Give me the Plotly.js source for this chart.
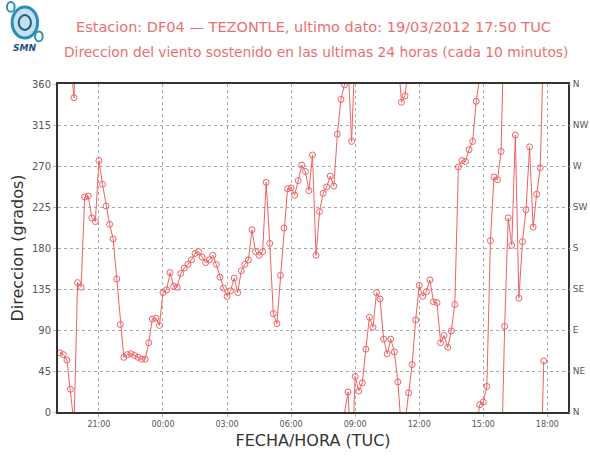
<!DOCTYPE html>
<html>
<head>
<meta charset="utf-8">
<script src="https://cdn.plot.ly/plotly-3.0.1.min.js"></script>
<style>
  html, body { margin: 0; padding: 0; background: #fff; }
  #chart { width: 590px; height: 456px; }
</style>
</head>
<body>
<div id="chart"></div>
<script>
// Estación DF04 - TEZONTLE: dirección del viento sostenido, una lectura cada 10 minutos
const firstReading = '2012-03-18 19:10';
const stepMinutes = 10;

// Dirección (grados), en orden cronológico
const direccion = [
  65, 63, 57, 25, 345, 142, 137, 236, 237, 213, 209, 276,
  250, 226, 206, 190, 146, 96, 60, 63, 64, 62, 60, 58,
  58, 76, 102, 103, 95, 131, 134, 153, 138, 137, 152, 158,
  162, 167, 174, 176, 170, 164, 167, 172, 162, 148, 136, 127,
  133, 147, 131, 155, 162, 167, 200, 176, 172, 176, 252, 185,
  108, 97, 150, 202, 245, 246, 238, 254, 271, 264, 243, 282,
  172, 220, 240, 247, 259, 248, 305, 343, 359, 22, 297, 39,
  23, 32, 69, 104, 93, 131, 124, 80, 64, 80, 66, 33,
  340, 347, 21, 52, 101, 139, 127, 132, 145, 121, 120, 76,
  84, 71, 89, 118, 269, 276, 275, 288, 297, 341, 8, 11,
  28, 188, 258, 255, 286, 94, 213, 183, 304, 125, 187, 222,
  291, 203, 239, 268, 56
];

const gradosTicks = [0, 45, 90, 135, 180, 225, 270, 315, 360];
const rumbosTicks = ['N', 'NE', 'E', 'SE', 'S', 'SW', 'W', 'NW', 'N'];
const horaTicks = ['2012-03-18 21:00', '2012-03-19 00:00', '2012-03-19 03:00',
                   '2012-03-19 06:00', '2012-03-19 09:00', '2012-03-19 12:00',
                   '2012-03-19 15:00', '2012-03-19 18:00'];
const xRange = ['2012-03-18 19:05', '2012-03-19 18:58'];

const title1 = 'Estacion: DF04 \u2014 TEZONTLE, ultimo dato: 19/03/2012 17:50 TUC';
const title2 = 'Direccion del viento sostenido en las ultimas 24 horas (cada 10 minutos)';

// helpers for timestamps (kept as UTC wall-clock strings)
function toMs(s) {
  const [d, t] = s.split(' ');
  const [Y, M, D] = d.split('-').map(Number);
  const [h, m] = t.split(':').map(Number);
  return Date.UTC(Y, M - 1, D, h, m);
}
function toStr(ms) {
  return new Date(ms).toISOString().slice(0, 19).replace('T', ' ');
}

const t0 = toMs(firstReading);
const tiempos = direccion.map((_, i) => t0 + i * stepMinutes * 60000);

// Line path: when the direction crosses north (0/360) the segment leaves
// through one edge and comes back in through the opposite one.
const lx = [], ly = [];
for (let i = 0; i < direccion.length; i++) {
  lx.push(toStr(tiempos[i])); ly.push(direccion[i]);
  if (i === direccion.length - 1) break;
  const a = direccion[i], b = direccion[i + 1];
  const d = b - a;
  if (d > 180) {               // wraps through 0 going down
    const f = a / (a + 360 - b);
    const xc = toStr(tiempos[i] + f * (tiempos[i + 1] - tiempos[i]));
    lx.push(xc, null, xc); ly.push(0, null, 360);
  } else if (d < -180) {       // wraps through 360 going up
    const f = (360 - a) / ((360 - a) + b);
    const xc = toStr(tiempos[i] + f * (tiempos[i + 1] - tiempos[i]));
    lx.push(xc, null, xc); ly.push(360, null, 0);
  }
}

const rojo = '#ef6262';

const traces = [
  {
    x: lx, y: ly, type: 'scatter', mode: 'lines',
    line: { color: rojo, width: 1 }, connectgaps: false,
    hoverinfo: 'skip', showlegend: false
  },
  {
    x: tiempos.map(toStr), y: direccion, type: 'scatter', mode: 'markers',
    marker: { symbol: 'circle-open', size: 6, color: rojo, line: { width: 1, color: rojo } },
    showlegend: false
  },
  {
    x: [xRange[0]], y: [0], yaxis: 'y2', type: 'scatter', mode: 'markers',
    marker: { opacity: 0 }, hoverinfo: 'skip', showlegend: false
  }
];

const ejeFont = { family: 'DejaVu Sans, sans-serif', color: '#555' };

const layout = {
  width: 590, height: 456,
  margin: { l: 58, r: 22, t: 84, b: 44 },
  paper_bgcolor: '#fff', plot_bgcolor: '#fff',
  font: { family: 'DejaVu Sans, sans-serif', color: '#444' },
  xaxis: {
    type: 'date', range: xRange,
    tickvals: horaTicks, tickformat: '%H:%M',
    tickfont: Object.assign({ size: 8 }, ejeFont),
    showgrid: true, gridcolor: '#aaa', griddash: 'dot', gridwidth: 1,
    showline: true, mirror: true, linecolor: '#333', linewidth: 2,
    ticks: 'outside', ticklen: 3, tickcolor: '#bbb',
    zeroline: false,
    title: { text: 'FECHA/HORA (TUC)', font: { size: 16, color: '#333' }, standoff: 7 }
  },
  yaxis: {
    range: [0, 360], tickvals: gradosTicks,
    tickfont: Object.assign({ size: 10 }, ejeFont),
    showgrid: true, gridcolor: '#aaa', griddash: 'dot', gridwidth: 1,
    showline: true, mirror: true, linecolor: '#333', linewidth: 2,
    ticks: 'outside', ticklen: 3, tickcolor: '#bbb',
    zeroline: false,
    title: { text: 'Direccion (grados)', font: { size: 16, color: '#333' }, standoff: 4 }
  },
  yaxis2: {
    overlaying: 'y', side: 'right', range: [0, 360],
    tickvals: gradosTicks, ticktext: rumbosTicks,
    tickfont: Object.assign({ size: 9 }, ejeFont),
    showgrid: false, zeroline: false, showline: false,
    ticks: 'outside', ticklen: 2, tickcolor: '#bbb'
  },
  annotations: [
    { text: title1, xref: 'paper', yref: 'paper', x: 0.5, y: 1.174,
      xanchor: 'center', yanchor: 'middle', showarrow: false,
      font: { size: 14.5, color: '#ea7070' } },
    { text: title2, xref: 'paper', yref: 'paper', x: 0.505, y: 1.097,
      xanchor: 'center', yanchor: 'middle', showarrow: false,
      font: { size: 13.8, color: '#ea7070' } },
    { text: '<b><i>SMN</i></b>', xref: 'paper', yref: 'paper',
      x: -0.066, y: 1.11, xanchor: 'center', yanchor: 'middle', showarrow: false,
      font: { size: 9, color: '#1f4e8c' } }
  ],
  shapes: [
    // SMN emblem
    { type: 'circle', xref: 'paper', yref: 'paper', x0: -0.09, x1: -0.04, y0: 1.14, y1: 1.235,
      line: { color: '#2b8fb8', width: 3 }, fillcolor: 'rgba(90,170,200,0.35)' },
    { type: 'circle', xref: 'paper', yref: 'paper', x0: -0.077, x1: -0.053, y0: 1.165, y1: 1.21,
      line: { color: '#1f5f8c', width: 2 }, fillcolor: 'rgba(0,0,0,0)' },
    { type: 'circle', xref: 'paper', yref: 'paper', x0: -0.1, x1: -0.085, y0: 1.22, y1: 1.25,
      line: { color: '#2b8fb8', width: 2 }, fillcolor: 'rgba(0,0,0,0)' },
    { type: 'circle', xref: 'paper', yref: 'paper', x0: -0.045, x1: -0.03, y0: 1.13, y1: 1.16,
      line: { color: '#2b8fb8', width: 2 }, fillcolor: 'rgba(0,0,0,0)' }
  ]
};

Plotly.newPlot('chart', traces, layout, { staticPlot: true });
</script>
</body>
</html>
